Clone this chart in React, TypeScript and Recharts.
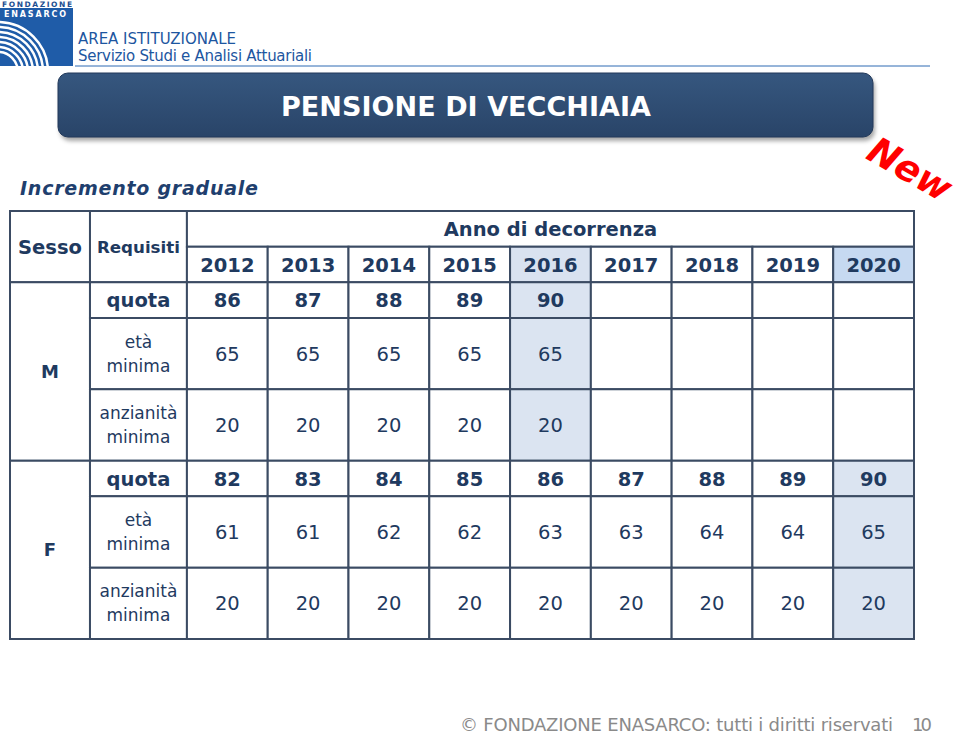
import { ComposedChart, XAxis, YAxis, ReferenceArea, Scatter } from "recharts"

const years = ["2012", "2013", "2014", "2015", "2016", "2017", "2018", "2019", "2020"]
const quotaM = [86, 87, 88, 89, 90, null, null, null, null]
const etaM = [65, 65, 65, 65, 65, null, null, null, null]
const anzianitaM = [20, 20, 20, 20, 20, null, null, null, null]
const quotaF = [82, 83, 84, 85, 86, 87, 88, 89, 90]
const etaF = [61, 61, 62, 62, 63, 63, 64, 64, 65]
const anzianitaF = [20, 20, 20, 20, 20, 20, 20, 20, 20]
const requisiti = [["quota"], ["età", "minima"], ["anzianità", "minima"]]

// table layout in column / row units
const SESSO_END = 0.99
const YEAR_START = 2.19
const X_END = YEAR_START + years.length
const ROW_SPANS = [1, 2, 2]
const TEXT = "#1f3a5f"
const BORDER = "#3b4b63"
const FONT = "'DejaVu Sans', Verdana, sans-serif"

const groups = [
  { sex: "M", start: 2, values: [quotaM, etaM, anzianitaM], hi: 4 },
  { sex: "F", start: 7, values: [quotaF, etaF, anzianitaF], hi: 8 },
]

const styles: Record<string, { size: number; weight: string }> = {
  head: { size: 19.5, weight: "bold" },
  req: { size: 16.7, weight: "bold" },
  sex: { size: 18, weight: "bold" },
  label: { size: 17, weight: "normal" },
  value: { size: 19.5, weight: "normal" },
}

type Area = { x1: number; x2: number; y1: number; y2: number; fill: string }
type Cell = { x: number; y: number; lines: string[]; kind: string }

const areas: Area[] = []
const texts: Cell[] = []

areas.push({ x1: 0, x2: SESSO_END, y1: 0, y2: 2, fill: "#fff" })
areas.push({ x1: SESSO_END, x2: YEAR_START, y1: 0, y2: 2, fill: "#fff" })
areas.push({ x1: YEAR_START, x2: X_END, y1: 0, y2: 1, fill: "#fff" })
texts.push({ x: SESSO_END / 2, y: 1, lines: ["Sesso"], kind: "head" })
texts.push({ x: (SESSO_END + YEAR_START) / 2, y: 1, lines: ["Requisiti"], kind: "req" })
texts.push({ x: (YEAR_START + X_END) / 2, y: 0.5, lines: ["Anno di decorrenza"], kind: "head" })
years.forEach((yr, i) => {
  const fill = i === 4 ? "#d9e2f0" : i === 8 ? "#c6d9f1" : "#fff"
  areas.push({ x1: YEAR_START + i, x2: YEAR_START + i + 1, y1: 1, y2: 2, fill })
  texts.push({ x: YEAR_START + i + 0.5, y: 1.5, lines: [yr], kind: "head" })
})

groups.forEach((g) => {
  areas.push({ x1: 0, x2: SESSO_END, y1: g.start, y2: g.start + 5, fill: "#fff" })
  texts.push({ x: SESSO_END / 2, y: g.start + 2.5, lines: [g.sex], kind: "sex" })
  let top = g.start
  g.values.forEach((vals, r) => {
    const h = ROW_SPANS[r]
    areas.push({ x1: SESSO_END, x2: YEAR_START, y1: top, y2: top + h, fill: "#fff" })
    texts.push({
      x: (SESSO_END + YEAR_START) / 2,
      y: top + h / 2,
      lines: requisiti[r],
      kind: r === 0 ? "head" : "label",
    })
    vals.forEach((v, i) => {
      areas.push({
        x1: YEAR_START + i,
        x2: YEAR_START + i + 1,
        y1: top,
        y2: top + h,
        fill: i === g.hi ? "#dbe4f1" : "#fff",
      })
      if (v !== null) {
        texts.push({ x: YEAR_START + i + 0.5, y: top + h / 2, lines: [String(v)], kind: r === 0 ? "head" : "value" })
      }
    })
    top += h
  })
})

const CellText = (props: any) => {
  const { cx, cy, payload } = props
  const st = styles[payload.kind]
  const n = payload.lines.length
  return (
    <text textAnchor="middle" fill={TEXT} fontSize={st.size} fontWeight={st.weight} fontFamily={FONT}>
      {payload.lines.map((l: string, k: number) => (
        <tspan key={k} x={cx} y={cy + (k - (n - 1) / 2) * 24 + st.size * 0.36}>
          {l}
        </tspan>
      ))}
    </text>
  )
}

function Decorations() {
  const arcs = [20, 25, 30, 35, 40, 45, 50]
  return (
    <svg width={960} height={734} style={{ position: "absolute", left: 0, top: 0 }}>
      <defs>
        <linearGradient id="titleGrad" x1="0" y1="0" x2="0" y2="1">
          <stop offset="0%" stopColor="#36577f" />
          <stop offset="100%" stopColor="#294468" />
        </linearGradient>
        <clipPath id="logoClip">
          <rect x={0} y={19} width={73} height={47} />
        </clipPath>
        <filter id="shadow" x="-5%" y="-20%" width="110%" height="150%">
          <feGaussianBlur stdDeviation="2" />
        </filter>
      </defs>
      {/* logo */}
      <text x={2} y={6.5} fontSize={7.5} fontWeight="bold" fill="#1d4f91" fontFamily={FONT} textLength={70} lengthAdjust="spacing">
        FONDAZIONE
      </text>
      <rect x={0} y={8} width={73} height={58} fill="#1f5ca8" />
      <text x={4} y={16.5} fontSize={8} fontWeight="bold" fill="#fff" fontFamily={FONT} textLength={62} lengthAdjust="spacing">
        ENASARCO
      </text>
      <g clipPath="url(#logoClip)">
        {arcs.map((r) => (
          <circle key={r} cx={-2} cy={72} r={r} fill="none" stroke="#fff" strokeWidth={2.5} />
        ))}
      </g>
      <text x={78} y={44} fontSize={15} fill="#1d56a0" fontFamily={FONT} textLength={158}>
        AREA ISTITUZIONALE
      </text>
      <text x={78} y={61} fontSize={15} fill="#1d56a0" fontFamily={FONT} textLength={234}>
        Servizio Studi e Analisi Attuariali
      </text>
      <line x1={75} y1={66} x2={930} y2={66} stroke="#2f6bb3" strokeWidth={1} />
      {/* title */}
      <rect x={60} y={77} width={815} height={64} rx={10} fill="rgba(0,0,0,0.35)" filter="url(#shadow)" />
      <rect x={58} y={73} width={815} height={64} rx={10} fill="url(#titleGrad)" stroke="#22395a" />
      <text x={466} y={115.5} textAnchor="middle" fontSize={27} fontWeight="bold" fill="#fff" fontFamily={FONT} textLength={370}>
        PENSIONE DI VECCHIAIA
      </text>
      <text x={20} y={195} fontSize={19} fontWeight="bold" fontStyle="italic" fill="#1f3f6e" fontFamily={FONT} textLength={238}>
        Incremento graduale
      </text>
      <text
        transform="translate(910,169) rotate(30)"
        textAnchor="middle"
        y={13}
        fontSize={37}
        fontWeight="bold"
        fontStyle="italic"
        fill="#ff0000"
        fontFamily={FONT}
      >
        New
      </text>
      {/* footer */}
      <text x={460} y={731} fontSize={18} fill="#8a8a8a" fontFamily={FONT} textLength={433}>
        © FONDAZIONE ENASARCO: tutti i diritti riservati
      </text>
      <text x={912} y={731} fontSize={18} fill="#8a8a8a" fontFamily={FONT} textLength={20}>
        10
      </text>
    </svg>
  )
}

export default function App() {
  return (
    <div style={{ position: "absolute", left: 0, top: 0, width: 960, height: 734, background: "#fff" }}>
      <Decorations />
      <div style={{ position: "absolute", left: 0, top: 0 }}>
        <ComposedChart width={960} height={734} margin={{ top: 211, right: 46, bottom: 95, left: 10 }}>
          <XAxis type="number" dataKey="x" domain={[0, X_END]} hide allowDataOverflow />
          <YAxis type="number" dataKey="y" domain={[0, 12]} reversed hide allowDataOverflow />
          {areas.map((a, i) => (
            <ReferenceArea
              key={i}
              x1={a.x1}
              x2={a.x2}
              y1={a.y1}
              y2={a.y2}
              fill={a.fill}
              fillOpacity={1}
              stroke={BORDER}
              strokeWidth={2}
            />
          ))}
          <Scatter data={texts} shape={CellText} isAnimationActive={false} />
        </ComposedChart>
      </div>
    </div>
  )
}
